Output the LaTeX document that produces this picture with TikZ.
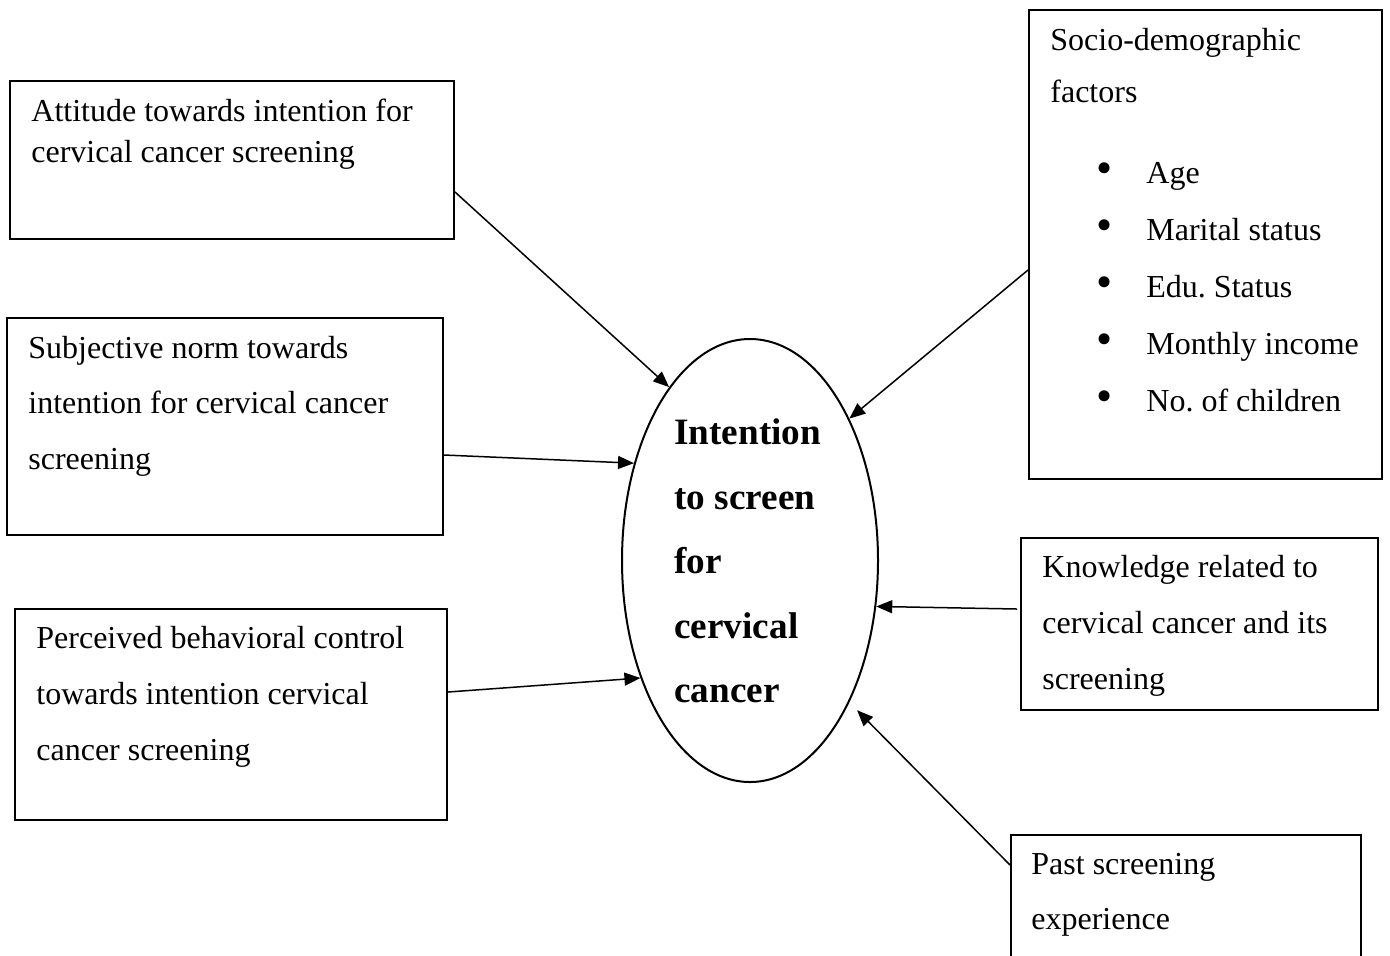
\documentclass[tikz,border=0pt]{standalone}
\usepackage{fontspec}
\setmainfont{Liberation Serif}
\usetikzlibrary{arrows.meta,shapes.geometric,fit}
\frenchspacing
\begin{document}
\begin{tikzpicture}[x=0.5pt,y=-0.5pt,
  box/.style={draw, line width=1pt, inner sep=0pt, rectangle},
  txt/.style={anchor=base west, inner sep=0pt, font=\fontsize{16}{19}\selectfont},
  btxt/.style={anchor=base west, inner sep=0pt, font=\fontsize{18.6}{22}\selectfont\bfseries},
  bul/.style={anchor=base, inner sep=0pt, font=\fontsize{23}{23}\selectfont},
  arr/.style={line width=0.75pt, -{Triangle[length=8pt,width=6.5pt]}}]
\useasboundingbox (0,0) rectangle (1390,955);
\clip (0,0) rectangle (1390,955);

% boxes
\coordinate (a1) at (10,81);   \coordinate (a2) at (454,239);
\coordinate (s1) at (7,318);   \coordinate (s2) at (443,535);
\coordinate (p1) at (15,609);  \coordinate (p2) at (447,820);
\coordinate (d1) at (1029,10); \coordinate (d2) at (1382,479);
\coordinate (k1) at (1021,538);\coordinate (k2) at (1378,710);
\coordinate (e1) at (1011,835);\coordinate (e2) at (1361,1000);
\node[box, fit=(a1)(a2)] (att) {};
\node[box, fit=(s1)(s2)] (sub) {};
\node[box, fit=(p1)(p2)] (pbc) {};
\node[box, fit=(d1)(d2)] (soc) {};
\node[box, fit=(k1)(k2)] (kno) {};
\node[box, fit=(e1)(e2)] (pse) {};

% ellipse
\node[draw, ellipse, line width=1pt, minimum width=128pt, minimum height=221.5pt, inner sep=0pt] (ell) at (750,560.5) {};

% texts
\node[txt] (att-1) at (31,121) {Attitude towards intention for};
\node[txt] (att-2) at (31,162) {cervical cancer screening};

\node[txt] (sub-1) at (28,358) {Subjective norm towards};
\node[txt] (sub-2) at (28,413) {intention for cervical cancer};
\node[txt] (sub-3) at (28,469) {screening};

\node[txt] (pbc-1) at (36,648) {Perceived behavioral control};
\node[txt] (pbc-2) at (36,704) {towards intention cervical};
\node[txt] (pbc-3) at (36,760) {cancer screening};

\node[txt] (soc-1) at (1050,50) {Socio-demographic};
\node[txt] (soc-2) at (1050,102) {factors};
\foreach \t [count=\i] in {Age,Marital status,Edu. Status,Monthly income,No. of children}{
  \node[bul] (socb-\i) at (1105,{183+(\i-1)*57.2}) {\textbullet};
  \node[txt] (soci-\i) at (1146,{183+(\i-1)*57.2}) {\t};
}

\node[txt] (kno-1) at (1042,577) {Knowledge related to};
\node[txt] (kno-2) at (1042,633) {cervical cancer and its};
\node[txt] (kno-3) at (1042,689) {screening};

\node[txt] (pse-1) at (1031,874) {Past screening};
\node[txt] (pse-2) at (1031,929) {experience};

\node[btxt] (int-1) at (674,444) {Intention};
\node[btxt] (int-2) at (674,509) {to screen};
\node[btxt] (int-3) at (674,573) {for};
\node[btxt] (int-4) at (674,638) {cervical};
\node[btxt] (int-5) at (674,702) {cancer};

% connectors
\draw[arr] ([yshift=-16pt]att.east) -- (ell.115.7);
\draw[arr] ([yshift=-14.25pt]sub.east) -- (ell.140.8);
\draw[arr] ([yshift=11.25pt]pbc.east) -- (ell.227.6);
\draw[arr] ([yshift=-12.75pt]soc.west) -- (ell.55.7);
\draw[arr] ([xshift=-1.5pt,yshift=7.5pt]kno.west) -- (ell.-20.3);
\draw[arr, shorten >=5.5pt] ([yshift=-15.5pt]pse.north west) -- (ell.-55.8);
\end{tikzpicture}
\end{document}
